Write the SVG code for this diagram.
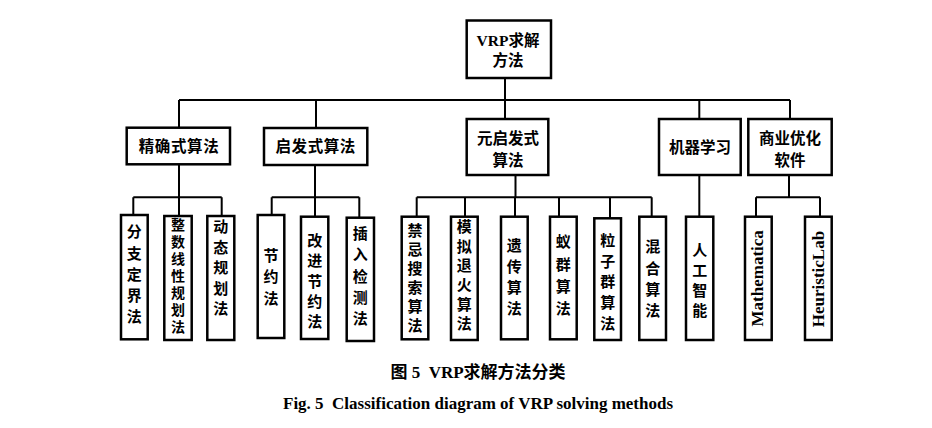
<svg xmlns="http://www.w3.org/2000/svg" width="932" height="428" viewBox="0 0 932 428">
<style>
.box{fill:#fff;stroke:#000;stroke-width:2.5}
.ln{fill:none;stroke:#000;stroke-width:2}
.cn{font-family:"Noto Sans CJK SC","Noto Sans",sans-serif;font-weight:700;fill:#000}
.t2{font-size:15.5px;text-anchor:middle}
.lf{font-size:15px;text-anchor:middle}
.en{font-family:"Liberation Serif",serif;font-weight:700;fill:#000}
</style>
<rect width="932" height="428" fill="#fff"/>
<g id="connectors">
<path class="ln" d="M505 78V100M179 100H790M179 100V128M316 100V128M505 100V119M699.3 100V119M790 100V119"/>
<path class="ln" d="M179 164V197.3M133.3 197.3H221.7M133.3 197.3V216M179 197.3V216M221.7 197.3V216"/>
<path class="ln" d="M315 165V197.3M271.7 197.3H359.3M271.7 197.3V216M315 197.3V217M359.3 197.3V218"/>
<path class="ln" d="M515.5 175V197.3M416.7 197.3H651.7M416.7 197.3V217M465 197.3V217M515 197.3V217M559 197.3V217M610 197.3V218M651.7 197.3V217"/>
<path class="ln" d="M699.3 175V217"/>
<path class="ln" d="M789 175V197.3M756 197.3H820M756 197.3V217M820 197.3V217"/>
</g>
<g id="root">
<rect class="box" x="466.7" y="20.5" width="84.3" height="57.5"/>
<text x="508" y="46" text-anchor="middle"><tspan class="en" font-size="15.5">VRP</tspan><tspan class="cn" font-size="15.5">求解</tspan></text>
<text class="cn t2" x="508" y="66">方法</text>
</g>
<g id="exact">
<rect class="box" x="126.7" y="127.7" width="103.3" height="36.6"/>
<text class="cn t2" x="179" y="152" letter-spacing="0.6">精确式算法</text>
</g>
<g id="heuristic">
<rect class="box" x="264" y="128" width="103.3" height="37"/>
<text class="cn t2" x="315.7" y="152" letter-spacing="0.6">启发式算法</text>
</g>
<g id="meta">
<rect class="box" x="466.7" y="119" width="81.6" height="56"/>
<text class="cn t2" x="508" y="144">元启发式</text>
<text class="cn t2" x="508" y="166">算法</text>
</g>
<g id="ml">
<rect class="box" x="659" y="119" width="81.7" height="56"/>
<text class="cn t2" x="700" y="152.5">机器学习</text>
</g>
<g id="software">
<rect class="box" x="748.3" y="119" width="83.4" height="56"/>
<text class="cn t2" x="790" y="144">商业优化</text>
<text class="cn t2" x="790" y="166">软件</text>
</g>
<g id="leaf1">
<rect class="box" x="121" y="215" width="26.7" height="124.3"/>
<text class="cn lf" x="134.3"><tspan x="134.3" y="237.4">分</tspan><tspan x="134.3" dy="21.25">支</tspan><tspan x="134.3" dy="21.25">定</tspan><tspan x="134.3" dy="21.25">界</tspan><tspan x="134.3" dy="21.25">法</tspan></text>
</g>
<g id="leaf2">
<rect class="box" x="164.3" y="216" width="27.4" height="124"/>
<text class="cn" font-size="14" x="178" y="218" writing-mode="vertical-rl" style="writing-mode:vertical-rl" letter-spacing="2.9">整数线性规划法</text>
</g>
<g id="leaf3">
<rect class="box" x="207.3" y="216" width="27" height="124"/>
<text class="cn lf" x="220.8"><tspan x="220.8" y="232.4">动</tspan><tspan x="220.8" dy="20.4">态</tspan><tspan x="220.8" dy="20.4">规</tspan><tspan x="220.8" dy="20.4">划</tspan><tspan x="220.8" dy="20.4">法</tspan></text>
</g>
<g id="leaf4">
<rect class="box" x="257.7" y="215" width="26.6" height="123"/>
<text class="cn lf" x="271"><tspan x="271" y="260.7">节</tspan><tspan x="271" dy="21.7">约</tspan><tspan x="271" dy="21.7">法</tspan></text>
</g>
<g id="leaf5">
<rect class="box" x="301" y="216.7" width="27.3" height="122.3"/>
<text class="cn lf" x="314.7"><tspan x="314.7" y="245.7">改</tspan><tspan x="314.7" dy="20.4">进</tspan><tspan x="314.7" dy="20.4">节</tspan><tspan x="314.7" dy="20.4">约</tspan><tspan x="314.7" dy="20.4">法</tspan></text>
</g>
<g id="leaf6">
<rect class="box" x="346.7" y="217.7" width="27.3" height="123.3"/>
<text class="cn lf" x="360.3"><tspan x="360.3" y="239">插</tspan><tspan x="360.3" dy="21.25">入</tspan><tspan x="360.3" dy="21.25">检</tspan><tspan x="360.3" dy="21.25">测</tspan><tspan x="360.3" dy="21.25">法</tspan></text>
</g>
<g id="leaf7">
<rect class="box" x="401.7" y="216.7" width="26.6" height="122.6"/>
<text class="cn lf" x="415"><tspan x="415" y="235.7">禁</tspan><tspan x="415" dy="19">忌</tspan><tspan x="415" dy="19">搜</tspan><tspan x="415" dy="19">索</tspan><tspan x="415" dy="19">算</tspan><tspan x="415" dy="19">法</tspan></text>
</g>
<g id="leaf8">
<rect class="box" x="451" y="216.7" width="26.7" height="123.3"/>
<text class="cn lf" x="464.3"><tspan x="464.3" y="232.4">模</tspan><tspan x="464.3" dy="19.3">拟</tspan><tspan x="464.3" dy="19.3">退</tspan><tspan x="464.3" dy="19.3">火</tspan><tspan x="464.3" dy="19.3">算</tspan><tspan x="464.3" dy="19.3">法</tspan></text>
</g>
<g id="leaf9">
<rect class="box" x="501" y="216.7" width="26.7" height="122.6"/>
<text class="cn lf" x="514.3"><tspan x="514.3" y="250.7">遗</tspan><tspan x="514.3" dy="21.1">传</tspan><tspan x="514.3" dy="21.1">算</tspan><tspan x="514.3" dy="21.1">法</tspan></text>
</g>
<g id="leaf10">
<rect class="box" x="550" y="216.7" width="26.7" height="122.6"/>
<text class="cn lf" x="563.3"><tspan x="563.3" y="247.4">蚁</tspan><tspan x="563.3" dy="22.2">群</tspan><tspan x="563.3" dy="22.2">算</tspan><tspan x="563.3" dy="22.2">法</tspan></text>
</g>
<g id="leaf11">
<rect class="box" x="594.3" y="218.3" width="26.7" height="121.7"/>
<text class="cn lf" x="607.7"><tspan x="607.7" y="245.7">粒</tspan><tspan x="607.7" dy="20.8">子</tspan><tspan x="607.7" dy="20.8">群</tspan><tspan x="607.7" dy="20.8">算</tspan><tspan x="607.7" dy="20.8">法</tspan></text>
</g>
<g id="leaf12">
<rect class="box" x="639.3" y="216.7" width="26.7" height="123.3"/>
<text class="cn lf" x="652.7"><tspan x="652.7" y="252.4">混</tspan><tspan x="652.7" dy="21.1">合</tspan><tspan x="652.7" dy="21.1">算</tspan><tspan x="652.7" dy="21.1">法</tspan></text>
</g>
<g id="leaf13">
<rect class="box" x="686" y="216.7" width="27.3" height="123.3"/>
<text class="cn lf" x="699.7"><tspan x="699.7" y="255.7">人</tspan><tspan x="699.7" dy="20">工</tspan><tspan x="699.7" dy="20">智</tspan><tspan x="699.7" dy="20">能</tspan></text>
</g>
<g id="leaf14">
<rect class="box" x="745" y="216.7" width="26.7" height="123.3"/>
<text class="en" font-size="17" text-anchor="middle" transform="translate(762.5 278.3) rotate(-90)">Mathematica</text>
</g>
<g id="leaf15">
<rect class="box" x="805" y="216.7" width="26.7" height="123.3"/>
<text class="en" font-size="17" text-anchor="middle" transform="translate(823.5 279) rotate(-90)">HeuristicLab</text>
</g>
<g id="caption">
<text x="478" y="378" text-anchor="middle" font-size="17" xml:space="preserve"><tspan class="cn" font-weight="400">图</tspan><tspan class="en"> 5  VRP</tspan><tspan class="cn" font-weight="400">求解方法分类</tspan></text>
<text class="en" x="478" y="409" text-anchor="middle" font-size="17" textLength="390" lengthAdjust="spacingAndGlyphs" xml:space="preserve">Fig. 5  Classification diagram of VRP solving methods</text>
</g>
</svg>
